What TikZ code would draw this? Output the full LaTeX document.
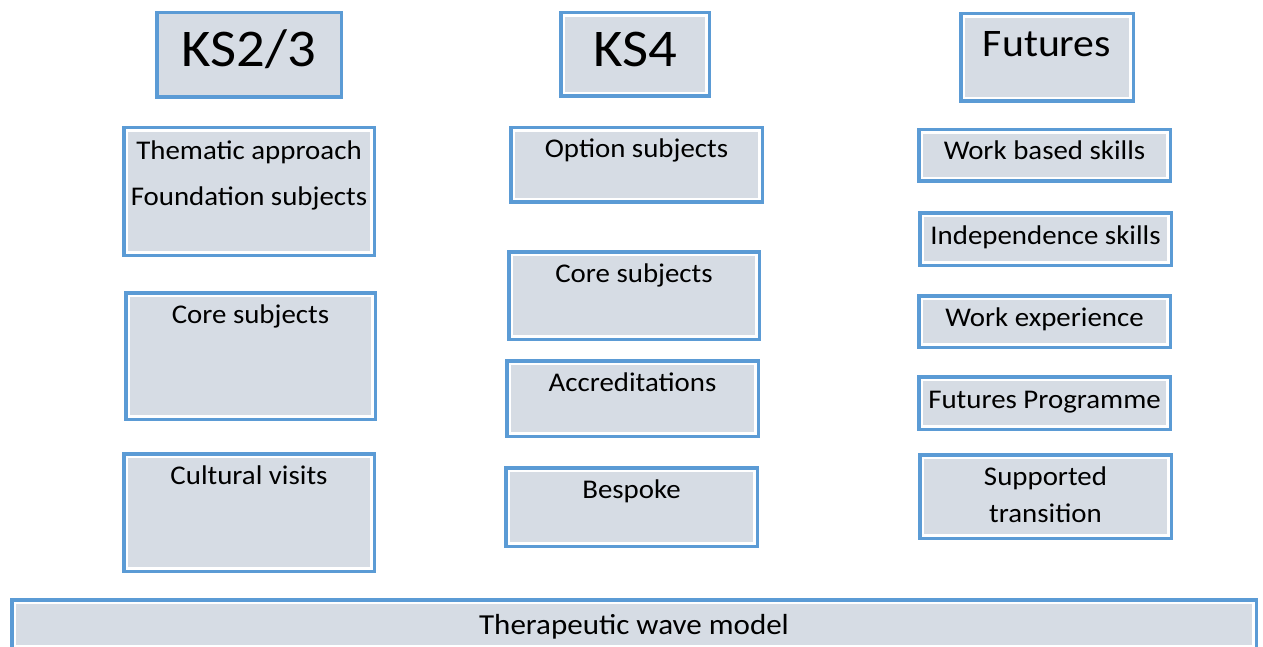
\documentclass[tikz,border=0pt]{standalone}
\usepackage{fontspec}
\setmainfont{Carlito}[FakeStretch=1.07]
\definecolor{wblue}{RGB}{91,155,213}
\definecolor{wgrey}{RGB}{214,220,228}
\tikzset{
  panel/.style={draw=wblue, line width=3.5pt, fill=white, inner sep=0pt,
    path picture={\fill[wgrey] ([shift={(4pt,-4pt)}]path picture bounding box.north west)
      rectangle ([shift={(-4pt,4pt)}]path picture bounding box.south east);}},
  plainpanel/.style={draw=wblue, line width=3.5pt, fill=wgrey, inner sep=0pt},
  paneltext/.style={anchor=base, yshift=-32pt, align=center, font=\fontsize{27}{30}\selectfont},
  headtext/.style={anchor=base, align=center},
}
\begin{document}
\begin{tikzpicture}[x=1pt,y=-1pt]
      \useasboundingbox (0,0) rectangle (1263,647) ;
      \clip (0,0) rectangle (1263,647) ;
      % column headers
      \node[plainpanel, minimum width=184.5pt, minimum height=84.5pt, %
        label={[headtext, yshift=-56pt, font=\fontsize{53}{60}\selectfont]north:KS2/3}] (ks23) at (249,55) {} ;
      \node[panel, minimum width=148.5pt, minimum height=83.5pt, %
        label={[headtext, yshift=-56pt, font=\fontsize{53}{60}\selectfont]north:KS4}] (ks4) at (635,54.5) {} ;
      \node[panel, minimum width=172.5pt, minimum height=87.5pt, %
        label={[headtext, yshift=-45pt, font=\fontsize{39}{44}\selectfont]north:Futures}] (fut) at (1047,57.5) {} ;
      % KS2/3 column
      \node[panel, minimum width=250.5pt, minimum height=127.5pt, %
        label={[paneltext, yshift=-48pt]north:Thematic approach\\[16pt]Foundation subjects}] (them) at (249,191.5) {} ;
      \node[panel, minimum width=249.5pt, minimum height=126.5pt, %
        label={[paneltext]north:Core subjects}] (core1) at (250.5,356) {} ;
      \node[panel, minimum width=250.5pt, minimum height=117.5pt, %
        label={[paneltext]north:Cultural visits}] (cult) at (249,512.5) {} ;
      % KS4 column
      \node[panel, minimum width=251.5pt, minimum height=74.5pt, %
        label={[paneltext]north:Option subjects}] (opt) at (636.5,165) {} ;
      \node[panel, minimum width=250.5pt, minimum height=87.5pt, %
        label={[paneltext]north:Core subjects}] (core2) at (634,295.5) {} ;
      \node[panel, minimum width=251.5pt, minimum height=75.5pt, %
        label={[paneltext]north:Accreditations}] (accr) at (632.5,398.5) {} ;
      \node[panel, minimum width=251.5pt, minimum height=78.5pt, %
        label={[paneltext]north:Bespoke}] (besp) at (631.5,507) {} ;
      % Futures column
      \node[panel, minimum width=251.5pt, minimum height=51.5pt, %
        label={[paneltext]north:Work based skills}] (work) at (1044.5,155.5) {} ;
      \node[panel, minimum width=251.5pt, minimum height=52.5pt, %
        label={[paneltext, yshift=-1pt]north:Independence skills}] (indep) at (1045.5,239) {} ;
      \node[panel, minimum width=251.5pt, minimum height=51.5pt, %
        label={[paneltext]north:Work experience}] (wexp) at (1044.5,321.5) {} ;
      \node[panel, minimum width=251.5pt, minimum height=52.5pt, %
        label={[paneltext, yshift=-1pt]north:Futures Programme}] (fprog) at (1044.5,403) {} ;
      \node[panel, minimum width=251.5pt, minimum height=83.5pt, %
        label={[paneltext, yshift=-37pt]north:Supported\\[7pt]transition}] (supp) at (1045.5,496.5) {} ;
      % base
      \node[panel, minimum width=1244.5pt, minimum height=49.5pt, %
        label={[paneltext, yshift=-4pt, font=\fontsize{29}{32}\selectfont]north:Therapeutic wave model}] (wave) at (634,624.5) {} ;
    \end{tikzpicture}
\end{document}
